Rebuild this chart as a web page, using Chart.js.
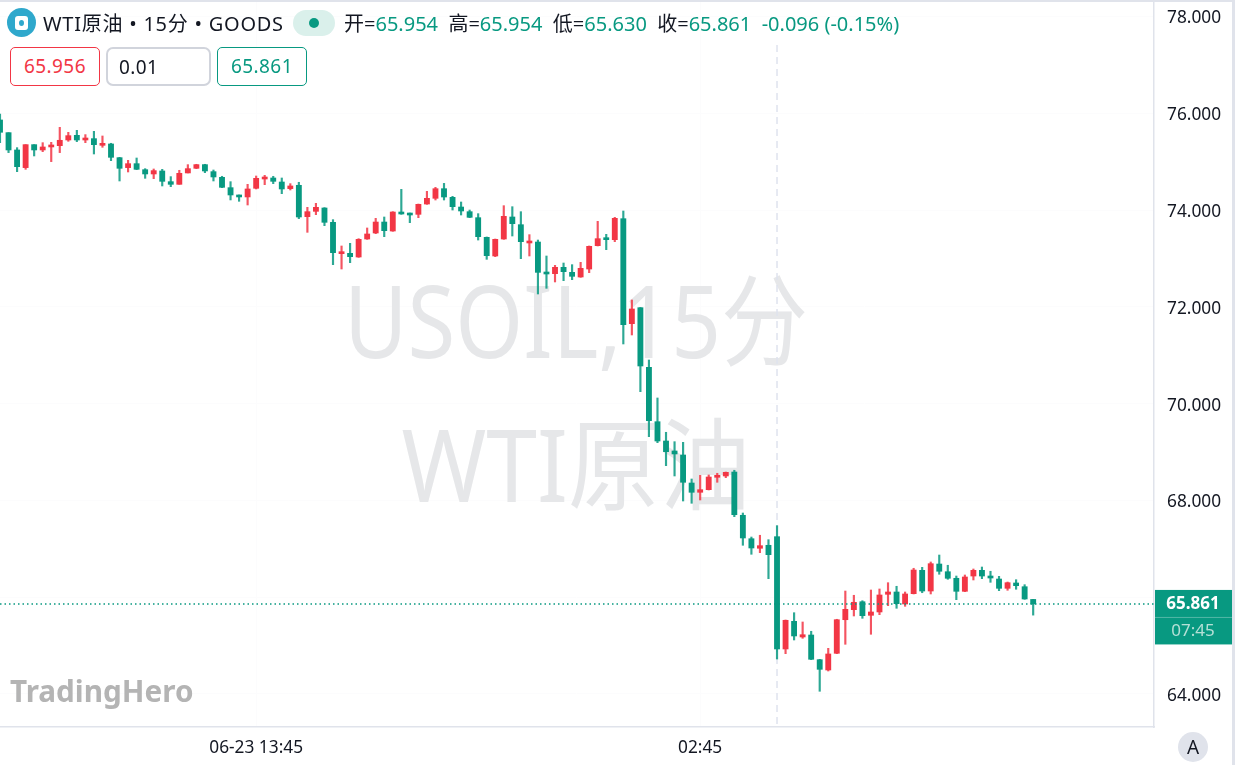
<!DOCTYPE html>
<html><head><meta charset="utf-8">
<script src="https://cdn.jsdelivr.net/npm/chart.js@4/dist/chart.umd.min.js"></script>
<style>
html,body{margin:0;padding:0;background:#fff;width:1235px;height:765px;overflow:hidden;font-family:"Noto Sans","Noto Sans CJK SC",sans-serif;color:#131722}
#c{position:absolute;left:0;top:0;width:1235px;height:765px}
.o{position:absolute;white-space:nowrap}
.box{box-sizing:border-box;font-size:19px;line-height:37px;text-align:center;background:#fff;letter-spacing:.4px}
.g{color:#089981}
</style></head><body>
<canvas id="c" width="1235" height="765"></canvas>
<div class="o" style="left:0;top:0;width:1235px;height:2px;background:#e0e3eb"></div>
<div class="o" style="left:1232px;top:0;width:3px;height:765px;background:#e0e3eb"></div>
<div class="o" style="left:7px;top:8px;width:29px;height:29px;border-radius:50%;background:#2fa8cc"></div>
<div class="o" style="left:15px;top:16px;width:13px;height:14px;border-radius:3px;background:#fff"></div>
<div class="o" style="left:19px;top:20px;width:5px;height:6px;border-radius:50%;background:#2fa8cc"></div>
<div class="o" id="title" style="left:43px;top:10px;font-size:20px;line-height:28px;letter-spacing:.75px">WTI原油 • 15分 • GOODS</div>
<div class="o" style="left:293px;top:10px;width:42px;height:26px;border-radius:13px;background:#daf0eb"></div>
<div class="o" style="left:309px;top:18px;width:10px;height:10px;border-radius:50%;background:#089981"></div>
<div class="o" id="ohlc" style="left:344px;top:10px;font-size:20px;line-height:28px"></div>
<div class="o box" id="b1" style="left:10px;top:47px;width:90px;height:39px;border:1.4px solid #f23645;border-radius:5px;color:#f23645"></div>
<div class="o box" id="b2" style="left:106px;top:47px;width:105px;height:39px;border:2px solid #d1d4dc;border-radius:7px;text-align:left;padding-left:11px"></div>
<div class="o box" id="b3" style="left:217px;top:47px;width:90px;height:39px;border:1.4px solid #089981;border-radius:5px;color:#089981"></div>
<div class="o" style="left:1178px;top:732px;width:30px;height:30px;border-radius:50%;background:#e0e3eb;text-align:center;font-size:19px;line-height:30px">A</div>
<script>
const opens=[75.862,75.600,75.242,74.877,75.352,75.242,75.304,75.331,75.448,75.545,
75.448,75.476,75.338,75.366,75.083,74.877,74.959,74.835,74.746,74.808,
74.587,74.532,74.767,74.863,74.939,74.794,74.677,74.463,74.298,74.271,
74.450,74.642,74.663,74.580,74.443,74.512,73.864,73.974,74.043,73.747,
73.099,73.106,73.030,73.402,73.526,73.753,73.567,73.960,73.919,73.912,
74.125,74.243,74.442,74.263,74.063,73.967,73.843,73.437,73.051,73.402,
73.857,73.698,73.320,73.340,72.706,72.686,72.817,72.713,72.617,72.782,
73.264,73.402,73.388,73.822,71.652,71.983,70.751,69.627,69.228,69.022,
68.939,68.360,68.168,68.222,68.478,68.505,68.587,67.693,67.209,67.011,
67.073,67.251,64.930,65.502,65.178,65.219,64.709,64.496,64.841,65.535,
65.742,65.907,65.626,65.695,66.060,66.108,65.860,66.073,66.556,66.128,
66.686,66.527,66.391,66.122,66.438,66.556,66.424,66.376,66.184,66.294,
66.217,65.954];
const highs=[75.986,75.600,75.290,75.352,75.352,75.393,75.400,75.710,75.607,75.648,
75.559,75.627,75.531,75.380,75.090,75.028,75.076,74.856,74.849,74.842,
74.691,74.822,74.939,74.946,74.946,74.828,74.698,74.587,74.312,74.532,
74.704,74.718,74.698,74.663,74.546,74.574,74.057,74.139,74.050,73.802,
73.258,73.313,73.409,73.630,73.829,73.857,73.967,74.428,73.939,74.125,
74.387,74.470,74.552,74.284,74.167,74.001,73.926,73.444,73.402,74.091,
74.070,73.967,73.492,73.381,73.051,72.858,72.906,72.872,72.920,73.258,
73.767,73.499,73.850,73.981,72.142,71.987,70.902,70.117,69.408,69.214,
69.201,68.443,68.519,68.526,68.561,68.587,68.623,67.740,67.244,67.280,
67.189,67.478,65.529,65.680,65.488,65.296,64.717,64.944,65.544,66.128,
66.040,65.928,66.149,66.170,66.300,66.226,66.108,66.598,66.618,66.728,
66.872,66.660,66.438,66.459,66.583,66.624,66.536,66.432,66.314,66.362,
66.259,65.954];
const lows=[75.393,75.187,74.794,74.842,75.118,75.207,75.001,75.187,75.421,75.414,
75.393,75.159,75.297,75.021,74.601,74.787,74.835,74.656,74.649,74.498,
74.484,74.532,74.767,74.856,74.773,74.601,74.463,74.209,74.181,74.105,
74.436,74.525,74.546,74.339,74.415,73.823,73.540,73.905,73.678,72.872,
72.782,72.913,73.023,73.395,73.512,73.450,73.561,73.912,73.740,73.843,
74.119,74.208,74.208,74.001,73.898,73.843,73.381,72.982,73.037,73.395,
73.464,72.996,73.051,72.266,72.383,72.514,72.541,72.562,72.610,72.706,
73.258,73.182,73.347,71.233,71.419,70.247,69.317,69.193,68.718,68.505,
67.988,67.941,68.009,68.216,68.375,68.470,67.664,67.073,66.887,66.920,
66.383,64.723,64.833,65.116,65.151,64.709,64.056,64.475,64.833,65.027,
65.612,65.564,65.234,65.639,65.825,65.771,65.812,66.067,66.093,66.067,
66.474,66.370,65.949,66.114,66.356,66.383,66.308,66.135,66.143,66.164,
65.957,65.630];
const closes=[75.607,75.242,74.897,75.352,75.242,75.304,75.324,75.442,75.538,75.448,
75.469,75.352,75.366,75.090,74.863,74.959,74.842,74.746,74.815,74.594,
74.532,74.760,74.856,74.939,74.808,74.684,74.470,74.312,74.271,74.436,
74.656,74.656,74.594,74.436,74.498,73.857,73.967,74.057,73.747,73.120,
73.127,73.037,73.395,73.506,73.753,73.574,73.960,73.919,73.898,74.119,
74.243,74.442,74.270,74.070,73.981,73.850,73.450,73.058,73.395,73.871,
73.719,73.347,73.340,72.713,72.679,72.817,72.727,72.631,72.796,73.251,
73.409,73.388,73.829,71.632,71.956,70.778,69.648,69.228,69.007,68.960,
68.375,68.168,68.222,68.484,68.505,68.581,67.705,67.224,67.017,67.065,
66.879,64.930,65.523,65.199,65.225,64.717,64.510,64.827,65.535,65.750,
65.895,65.618,65.695,66.046,66.108,65.866,66.067,66.562,66.128,66.693,
66.536,66.391,66.122,66.418,66.556,66.438,66.397,66.184,66.300,66.238,
65.963,65.861];
const barSlotEnd=135.15;
const tickIndexes=[30,82];
const tickLabels=['06-23 13:45','02:45'];
const priceTicks=[64,66,68,70,72,74,76,78];
const priceMin=63.318, priceMax=78.341;
const lastPrice=65.861, countdown='07:45', crosshairIndex=91;
const bidPrice='65.956', lotSize='0.01', askPrice='65.861';
const watermarkLines=['USOIL,15分','WTI原油'];
const brand='TradingHero';
const legendParts=[['开=','65.954'],['高=','65.954'],['低=','65.630'],['收=','65.861']];
const changeText='-0.096 (-0.15%)';
const UP='#f23645', DOWN='#089981', INK='#131722', LINE='#e0e3eb';
const FONT='"Noto Sans","Noto Sans CJK SC",sans-serif';

document.getElementById('b1').textContent=bidPrice;
document.getElementById('b2').textContent=lotSize;
document.getElementById('b3').textContent=askPrice;
document.getElementById('ohlc').innerHTML=legendParts.map(p=>p[0]+'<span class="g">'+p[1]+'</span>').join('&nbsp;&nbsp;')+'&nbsp;&nbsp;<span class="g">'+changeText+'</span>';

const colors=opens.map((o,i)=>closes[i]>=o?UP:DOWN);

function squeezeText(c,text,cx,base,sx){
  c.save();c.translate(cx,base);c.scale(sx,1);c.fillText(text,0,0);c.restore();
}
const overlay={id:'overlay',
 beforeDatasetsDraw(ch){
  const c=ch.ctx,{x}=ch.scales;
  c.save();
  c.fillStyle='#e6e7e9';c.textAlign='center';c.textBaseline='alphabetic';
  c.font='100px '+FONT;
  squeezeText(c,watermarkLines[0],576,358,.87);
  squeezeText(c,watermarkLines[1],576,502,.913);
  c.fillStyle='#b4b4b4';c.textAlign='left';
  c.font='bold 29.7px '+FONT;
  c.fillText(brand,10,702);
  c.strokeStyle='#dfe3ee';c.lineWidth=1.5;c.setLineDash([7,5]);
  const cx=x.getPixelForValue(crosshairIndex);
  c.beginPath();c.moveTo(cx,45);c.lineTo(cx,727);c.stroke();
  c.restore();
 },
 afterDatasetsDraw(ch){
  const c=ch.ctx,{y}=ch.scales,py=y.getPixelForValue(lastPrice);
  c.save();
  c.strokeStyle=DOWN;c.lineWidth=1.4;c.setLineDash([1.5,3]);
  c.beginPath();c.moveTo(0,py);c.lineTo(1154,py);c.stroke();
  c.restore();
 },
 afterDraw(ch){
  const c=ch.ctx,{y}=ch.scales,py=y.getPixelForValue(lastPrice);
  c.save();
  c.fillStyle=DOWN;c.fillRect(1155,py-14,77,54.5);
  c.fillStyle='rgba(255,255,255,.3)';c.fillRect(1155,py+13,77,1);
  c.textAlign='center';c.textBaseline='middle';
  c.font='bold 17px '+FONT;c.fillStyle='#fff';
  c.fillText(lastPrice.toFixed(3),1193,py);
  c.font='17px '+FONT;c.fillStyle='#b5e0d6';
  c.fillText(countdown,1193,py+27);
  c.restore();
 }};
function noPad(s){s.paddingTop=0;s.paddingBottom=0;s.paddingLeft=0;s.paddingRight=0}

new Chart(document.getElementById('c'),{
 type:'bar',
 data:{datasets:[
  {label:'body',data:opens.map((o,i)=>({x:i,y:[o,closes[i]]})),backgroundColor:colors,barThickness:5.2,minBarLength:2,grouped:false,order:1,borderWidth:0,borderSkipped:false},
  {label:'wick',data:lows.map((l,i)=>({x:i,y:[l,highs[i]]})),backgroundColor:colors.map(k=>k==UP?'rgba(242,54,69,.85)':'rgba(8,153,129,.85)'),barThickness:1.5,grouped:false,order:2,borderWidth:0,borderSkipped:false}
 ]},
 plugins:[overlay],
 options:{responsive:false,animation:false,
  layout:{padding:0},
  plugins:{legend:{display:false},tooltip:{enabled:false},title:{display:false}},
  scales:{
   x:{type:'linear',offset:false,min:0,max:barSlotEnd,
    grid:{color:'#fcfcfd',drawTicks:false,offset:false},
    border:{color:LINE,width:1.5},
    afterBuildTicks(s){s.ticks=tickIndexes.map(v=>({value:v}))},
    afterFit(s){s.height=38;noPad(s)},
    ticks:{autoSkip:false,maxRotation:0,minRotation:0,padding:11,color:INK,font:{family:FONT,size:17.3},
     callback(v){return tickLabels[tickIndexes.indexOf(v)]}}},
   y:{position:'right',min:priceMin,max:priceMax,
    grid:{color:'#fcfcfd',drawTicks:false},
    border:{color:LINE,width:1.5},
    afterBuildTicks(s){s.ticks=priceTicks.map(v=>({value:v}))},
    afterFit(s){s.width=81;noPad(s)},
    ticks:{padding:13,labelOffset:2,color:INK,font:{family:FONT,size:17.3},callback(v){return Number(v).toFixed(3)}}}
  }}
});
</script></body></html>
